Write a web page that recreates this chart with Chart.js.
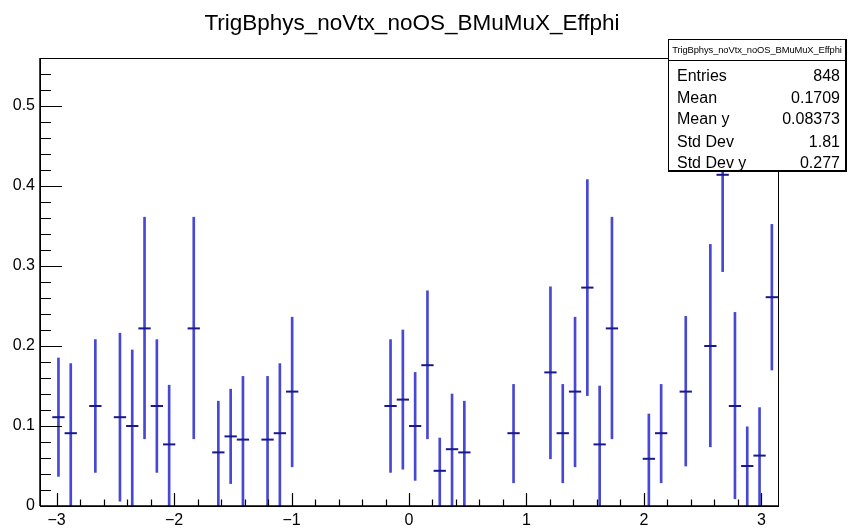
<!DOCTYPE html>
<html>
<head>
<meta charset="utf-8">
<script src="https://cdn.jsdelivr.net/npm/chart.js@4.4.1/dist/chart.umd.min.js"></script>
<style>
  html, body { margin: 0; padding: 0; background: #fff; }
  #wrap { position: relative; width: 850px; height: 529px; font-family: 'Liberation Sans', Arial, sans-serif; }
  #title { position: absolute; left: 0; top: 8px; width: 824px; text-align: center; font-size: 22.5px; line-height: 30px; color: #000; }
  #stats { position: absolute; left: 668px; top: 39px; width: 179px; height: 133px; background: #fff; border: 1px solid #000; border-right-width: 2px; border-bottom-width: 2px; box-sizing: border-box; }
  #stats .head { position: absolute; left: 0; top: 0; width: 100%; height: 20px; border-bottom: 1px solid #000; font-size: 9.4px; line-height: 20px; text-align: center; letter-spacing: -0.1px; }
  #stats .row { position: absolute; left: 8px; right: 5px; height: 20px; font-size: 16px; line-height: 20px; }
  #stats .row .v { position: absolute; right: 0; top: 0; }
</style>
</head>
<body>
<div id="wrap">
  <canvas id="c" width="850" height="529"></canvas>
  <div id="title">TrigBphys_noVtx_noOS_BMuMuX_Effphi</div>
  <div id="stats"></div>
</div>
<script>
// 60 bins in phi from -pi to pi, only filled bins listed
const nBins = 60;
const binIdx = [1, 2, 4, 6, 7, 8, 9, 10, 12, 14, 15, 16, 18, 19, 20, 28, 29, 30, 31, 32, 33, 34, 38, 41, 42, 43, 44, 45, 46, 49, 50, 52, 54, 55, 56, 57, 58, 59];
const eff = [0.111, 0.091, 0.125, 0.111, 0.100, 0.222, 0.125, 0.077, 0.222, 0.067, 0.087, 0.083, 0.083, 0.091, 0.143,
  0.125, 0.133, 0.100, 0.176, 0.044, 0.071, 0.067, 0.091, 0.167, 0.091, 0.143, 0.273, 0.077, 0.222, 0.059, 0.091,
  0.143, 0.200, 0.414, 0.125, 0.050, 0.063, 0.261];
const errUp = [0.074, 0.087, 0.083, 0.105, 0.095, 0.139, 0.083, 0.074, 0.139, 0.064, 0.059, 0.079, 0.079, 0.087, 0.093,
  0.083, 0.087, 0.067, 0.093, 0.041, 0.069, 0.064, 0.061, 0.107, 0.061, 0.093, 0.135, 0.073, 0.139, 0.056, 0.061,
  0.094, 0.127, 0.121, 0.117, 0.049, 0.060, 0.091];
const errLow = [0.074, 0.091, 0.083, 0.105, 0.100, 0.138, 0.083, 0.077, 0.138, 0.067, 0.059, 0.083, 0.083, 0.091, 0.094,
  0.083, 0.087, 0.068, 0.092, 0.044, 0.071, 0.067, 0.062, 0.108, 0.062, 0.094, 0.135, 0.077, 0.138, 0.059, 0.062,
  0.093, 0.126, 0.121, 0.116, 0.050, 0.063, 0.091];

const statLabels = ['Entries', 'Mean', 'Mean y', 'Std Dev', 'Std Dev y'];
const statValues = ['848', '0.1709', '0.08373', '1.81', '0.277'];

const binW = 2 * Math.PI / nBins;
const phi = binIdx.map(i => -Math.PI + (i + 0.5) * binW);

// stats box
const stats = document.getElementById('stats');
stats.innerHTML = '<div class="head">TrigBphys_noVtx_noOS_BMuMuX_Effphi</div>';
const rowTops = [26, 48, 69, 92, 113];
statLabels.forEach((l, k) => {
  stats.innerHTML += `<div class="row" style="top:${rowTops[k]}px">${l}<span class="v">${statValues[k]}</span></div>`;
});

const FONT = "'Liberation Sans', Arial, sans-serif";

const rootFrame = {
  id: 'rootFrame',
  afterDraw(chart) {
    const { ctx, chartArea: a, scales: { x, y } } = chart;
    ctx.save();
    ctx.strokeStyle = '#000';
    ctx.lineWidth = 1;
    ctx.strokeRect(a.left + 0.5, a.top + 0.5, a.right - a.left, a.bottom - a.top);
    ctx.lineWidth = 1.5;
    ctx.beginPath();
    ctx.moveTo(a.left, a.bottom); ctx.lineTo(a.right, a.bottom);
    ctx.moveTo(a.left, a.top); ctx.lineTo(a.left, a.bottom);
    ctx.stroke();
    ctx.lineWidth = 1.2;
    ctx.beginPath();
    // x ticks, major every 1, minor every 0.2
    for (let k = -20; k <= 20; k++) {
      const v = k * 0.2;
      if (v < x.min || v > x.max) continue;
      const px = Math.round(x.getPixelForValue(v)) + 0.5;
      const len = (k % 5 === 0) ? 13 : 6.5;
      ctx.moveTo(px, a.bottom); ctx.lineTo(px, a.bottom - len);
    }
    // y ticks, major every 0.1, minor every 0.02
    for (let k = 0; k <= 28; k++) {
      const v = k * 0.02;
      if (v > y.max + 1e-9) continue;
      const py = Math.round(y.getPixelForValue(v)) + 0.5;
      const len = (k % 5 === 0) ? 22 : 11;
      ctx.moveTo(a.left, py); ctx.lineTo(a.left + len, py);
    }
    ctx.stroke();
    ctx.restore();
  }
};

new Chart(document.getElementById('c'), {
  type: 'bar',
  data: {
    datasets: [
      {
        label: 'err',
        data: phi.map((p, k) => ({ x: p, y: [eff[k] - errLow[k], eff[k] + errUp[k]] })),
        backgroundColor: 'rgb(72,72,212)',
        borderWidth: 0,
        barThickness: 2,
        order: 2,
      },
      {
        type: 'scatter',
        label: 'eff',
        data: phi.map((p, k) => ({ x: p, y: eff[k] })),
        pointStyle: 'line',
        pointRadius: 6.15,
        pointHoverRadius: 6.15,
        borderColor: 'rgb(25,25,140)',
        backgroundColor: 'rgb(25,25,140)',
        pointBorderWidth: 2,
        order: 1,
      },
    ],
  },
  options: {
    responsive: false,
    animation: false,
    events: [],
    layout: { padding: { top: 58, right: 72, left: 0, bottom: 0 } },
    plugins: {
      legend: { display: false },
      tooltip: { enabled: false },
      title: { display: false },
    },
    scales: {
      x: {
        type: 'linear',
        min: -Math.PI,
        max: Math.PI,
        offset: false,
        grid: { display: false, drawTicks: false },
        border: { display: false },
        ticks: {
          stepSize: 1,
          includeBounds: false,
          autoSkip: false,
          maxRotation: 0,
          padding: 5,
          color: '#000',
          font: { family: FONT, size: 16 },
          callback: v => (v < 0 ? '\u2212' + Math.abs(v) : String(v)),
        },
        afterFit: s => { s.height = 23; },
      },
      y: {
        min: 0,
        max: 0.56,
        grid: { display: false, drawTicks: false },
        border: { display: false },
        ticks: {
          stepSize: 0.1,
          includeBounds: false,
          padding: 5,
          color: '#000',
          font: { family: FONT, size: 16 },
          callback: v => (Math.abs(v) < 1e-9 ? '0' : v.toFixed(1)),
        },
        afterFit: s => { s.width = 40; },
      },
    },
  },
  plugins: [rootFrame],
});
</script>
</body>
</html>
